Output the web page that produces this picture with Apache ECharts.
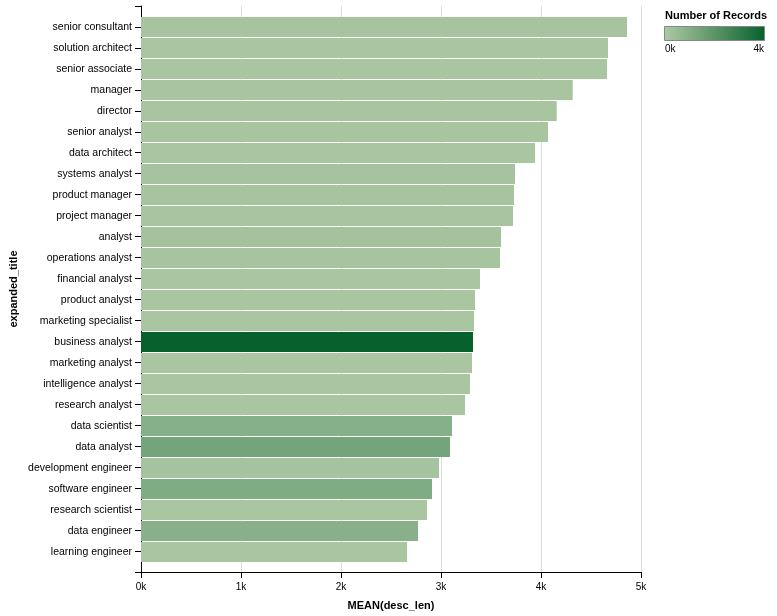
<!DOCTYPE html>
<html><head><meta charset="utf-8">
<script src="https://cdn.jsdelivr.net/npm/echarts@6/dist/echarts.min.js"></script>
<style>html,body{margin:0;padding:0;background:#fff}#c{width:777px;height:616px}</style>
</head><body><div id="c"></div>
<script>
const categories = ['senior consultant','solution architect','senior associate','manager','director','senior analyst','data architect','systems analyst','product manager','project manager','analyst','operations analyst','financial analyst','product analyst','marketing specialist','business analyst','marketing analyst','intelligence analyst','research analyst','data scientist','data analyst','development engineer','software engineer','research scientist','data engineer','learning engineer'];
const meanDescLen = [4860,4670,4660,4317,4157,4070,3940,3740,3730,3720,3600,3590,3390,3340,3330,3320,3310,3290,3240,3110,3090,2980,2910,2860,2770,2660];
const recordCounts = [180,110,120,150,140,160,130,220,210,150,250,200,120,110,100,4150,120,110,130,1000,1450,220,1150,120,950,110];
const xTickLabels = ['0k','1k','2k','3k','4k','5k'];
const legendTitle = 'Number of Records';
const legendLabels = ['0k','4k'];
const colorLight = '#aec9a4', colorDark = '#07612c';
const FF = "'Liberation Sans', Arial, Helvetica, sans-serif";

const chart = echarts.init(document.getElementById('c'), null, {renderer:'canvas'});
chart.setOption({
  animation:false,
  backgroundColor:'#fff',
  textStyle:{fontFamily:FF},
  grid:[
    {left:141, top:6, width:500, height:567},
    {left:141, top:16.5, width:500, height:546}
  ],
  xAxis:[
    {gridIndex:0, type:'value', min:0, max:5000, interval:1000,
     axisLine:{show:true, onZero:false, lineStyle:{color:'#000', width:1}},
     axisTick:{show:true, length:6, lineStyle:{color:'#000'}},
     axisLabel:{formatter:v=>xTickLabels[Math.round(v/1000)], fontSize:10, color:'#000', margin:10, fontFamily:FF},
     splitLine:{show:true, lineStyle:{color:'#ddd', width:1}},
     name:'MEAN(desc_len)', nameLocation:'middle', nameGap:28,
     nameTextStyle:{fontWeight:'bold', fontSize:11, color:'#000', fontFamily:FF}},
    {gridIndex:1, type:'value', min:0, max:5000, show:false}
  ],
  yAxis:[
    {gridIndex:0, type:'value', min:-1, max:26, interval:1, inverse:true,
     axisLine:{show:true, onZero:false, lineStyle:{color:'#000', width:1}},
     axisTick:{show:true, length:6, lineStyle:{color:'#000'}},
     axisLabel:{show:false}, splitLine:{show:false},
     name:'expanded_title', nameLocation:'middle', nameGap:122,
     nameTextStyle:{fontWeight:'bold', fontSize:11, color:'#000', fontFamily:FF}},
    {gridIndex:1, type:'category', data:categories, inverse:true,
     axisLine:{show:false}, axisTick:{show:false},
     axisLabel:{fontSize:10.5, color:'#000', margin:9, fontFamily:FF},
     splitLine:{show:false}}
  ],
  visualMap:{type:'continuous', show:false, seriesIndex:0, dimension:2, min:0, max:4150,
    inRange:{color:[colorLight, colorDark]}},
  series:[{
    type:'bar', xAxisIndex:1, yAxisIndex:1, barWidth:20,
    encode:{x:0, y:1},
    data:categories.map((c,i)=>[meanDescLen[i], c, recordCounts[i]])
  }],
  graphic:[
    {type:'text', x:665, y:16, style:{text:legendTitle, font:"bold 11px "+FF, fill:'#000', verticalAlign:'middle', align:'left'}},
    {type:'rect', shape:{x:664.5, y:26.5, width:100, height:14},
     style:{fill:new echarts.graphic.LinearGradient(0,0,1,0,[{offset:0,color:colorLight},{offset:1,color:colorDark}]), stroke:'#888', lineWidth:1}},
    {type:'text', x:665, y:49.5, style:{text:legendLabels[0], font:"10px "+FF, fill:'#000', verticalAlign:'middle', align:'left'}},
    {type:'text', x:764, y:49.5, style:{text:legendLabels[1], font:"10px "+FF, fill:'#000', verticalAlign:'middle', align:'right'}}
  ]
});
</script></body></html>
